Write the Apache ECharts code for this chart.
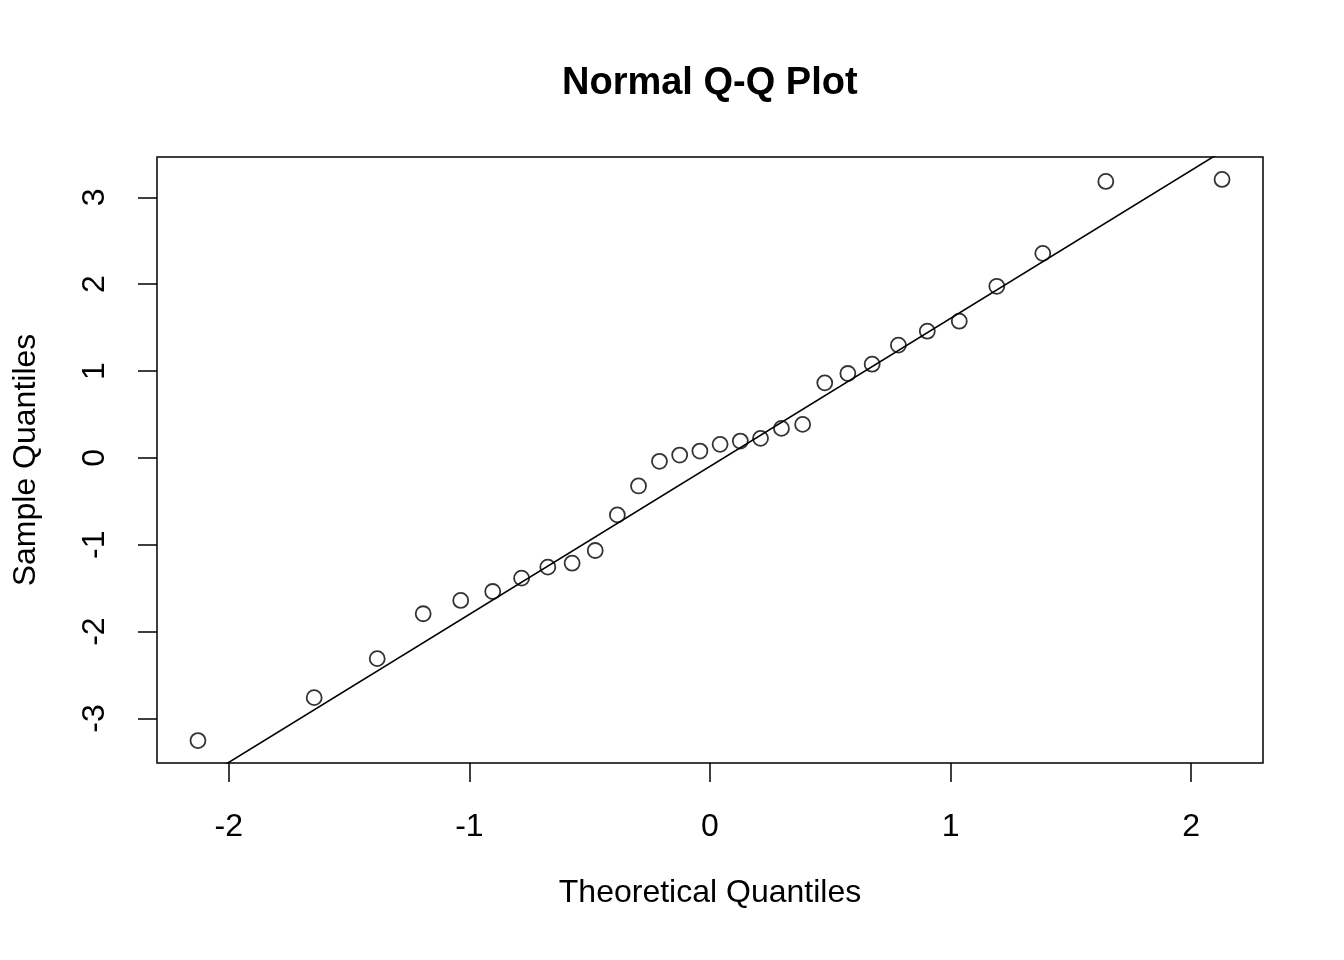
<!DOCTYPE html>
<html>
<head>
<meta charset="utf-8">
<title>Normal Q-Q Plot</title>
<script src="https://cdn.jsdelivr.net/npm/echarts@6/dist/echarts.min.js"></script>
<style>
  html, body { margin: 0; padding: 0; background: #fff; }
  #chart { width: 1344px; height: 960px; }
</style>
</head>
<body>
<div id="chart"></div>
<script>
// theoretical quantiles (x) and sample quantiles (y)
var theoretical = [-2.128, -1.645, -1.383, -1.192, -1.036, -0.903, -0.783, -0.674, -0.573, -0.477,
  -0.385, -0.297, -0.210, -0.126, -0.042, 0.042, 0.126, 0.210, 0.297, 0.385,
  0.477, 0.573, 0.674, 0.783, 0.903, 1.036, 1.192, 1.383, 1.645, 2.128];
var sample = [-3.254, -2.760, -2.311, -1.794, -1.641, -1.538, -1.384, -1.258, -1.212, -1.066,
  -0.656, -0.323, -0.039, 0.033, 0.079, 0.156, 0.194, 0.225, 0.340, 0.386,
  0.864, 0.972, 1.079, 1.298, 1.459, 1.574, 1.976, 2.355, 3.183, 3.206];
var xTicks = [-2, -1, 0, 1, 2];
var yTicks = [-3, -2, -1, 0, 1, 2, 3];

var FONT = '"Liberation Sans", Arial, Helvetica, sans-serif';

// R-style axis range: data range padded 4% each side
function padRange(arr) {
  var lo = Math.min.apply(null, arr), hi = Math.max.apply(null, arr);
  var d = (hi - lo) * 0.04;
  return [lo - d, hi + d];
}
var xr = padRange(theoretical);
var yr = padRange(sample);

// qqline: through the 1st and 3rd quartiles (type 7)
function quantile(arr, p) {
  var s = arr.slice().sort(function (a, b) { return a - b; });
  var h = (s.length - 1) * p;
  var lo = Math.floor(h);
  return s[lo] + (h - lo) * (s[lo + 1] - s[lo]);
}
var q1 = quantile(sample, 0.25), q3 = quantile(sample, 0.75);
var z = 0.6744898;
var slope = (q3 - q1) / (2 * z);
var intercept = q1 + slope * z;
var linePts = [[xr[0], intercept + slope * xr[0]], [xr[1], intercept + slope * xr[1]]];

var points = theoretical.map(function (x, i) { return [x, sample[i]]; });

var chart = echarts.init(document.getElementById('chart'));
chart.setOption({
  animation: false,
  backgroundColor: '#fff',
  title: {
    text: 'Normal Q-Q Plot',
    left: 557,
    top: 60,
    textStyle: { fontFamily: FONT, fontSize: 38, fontWeight: 'bold', color: '#000' }
  },
  grid: {
    left: 157, right: 81, top: 157, bottom: 197,
    show: true, borderColor: '#000', borderWidth: 1.5
  },
  xAxis: {
    type: 'value',
    min: xr[0], max: xr[1],
    name: 'Theoretical Quantiles',
    nameLocation: 'middle',
    nameGap: 114,
    nameTextStyle: { fontFamily: FONT, fontSize: 32, color: '#000' },
    axisLine: { show: false, onZero: false },
    splitLine: { show: false },
    axisTick: { show: true, length: 19, customValues: xTicks, lineStyle: { color: '#000', width: 1.5 } },
    axisLabel: { customValues: xTicks, margin: 48, fontFamily: FONT, fontSize: 32, color: '#000' }
  },
  yAxis: {
    type: 'value',
    min: yr[0], max: yr[1],
    name: 'Sample Quantiles',
    nameLocation: 'middle',
    nameGap: 115,
    nameRotate: 90,
    nameTextStyle: { fontFamily: FONT, fontSize: 32, color: '#000' },
    axisLine: { show: false, onZero: false },
    splitLine: { show: false },
    axisTick: { show: true, length: 19, customValues: yTicks, lineStyle: { color: '#000', width: 1.5 } },
    axisLabel: { customValues: yTicks, rotate: 90, margin: 46, fontFamily: FONT, fontSize: 32, color: '#000' }
  },
  series: [
    {
      type: 'scatter',
      data: points,
      symbol: 'circle',
      symbolSize: 15,
      itemStyle: { color: 'transparent', borderColor: '#000', borderWidth: 1.8 }
    },
    {
      type: 'line',
      data: linePts,
      showSymbol: false,
      clip: true,
      lineStyle: { color: '#000', width: 1.6 }
    }
  ]
});
</script>
</body>
</html>
